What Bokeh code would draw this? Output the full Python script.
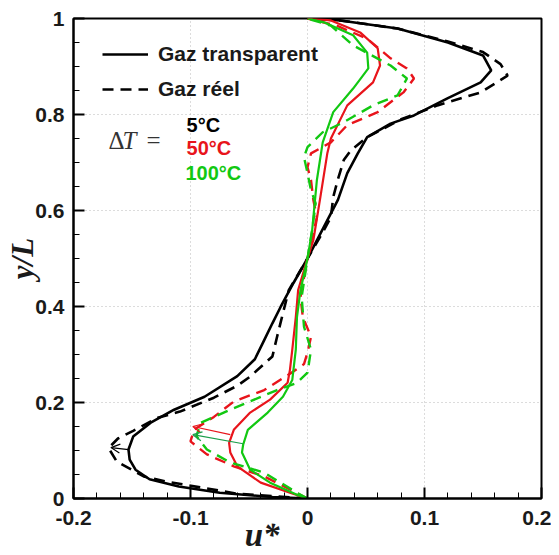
import numpy as np
from bokeh.plotting import figure
from bokeh.models import (Range1d, FixedTicker, Label, Legend, LegendItem, Arrow, OpenHead)
from bokeh.embed import file_html
from bokeh.resources import INLINE

# ---- data (u*, y/L) ----
black_solid_u = [0, -0.03, -0.075, -0.11, -0.135, -0.147, -0.152, -0.153, -0.149, -0.134, -0.114, -0.088,
                 -0.06, -0.045, -0.037, -0.030, -0.023, -0.012, 0, 0.014, 0.026, 0.034, 0.043, 0.051, 0.071,
                 0.091, 0.120, 0.148, 0.157, 0.150, 0.120, 0.077, 0.028, 0]
black_solid_y = [0, 0.003, 0.012, 0.025, 0.04, 0.06, 0.081, 0.102, 0.129, 0.158, 0.185, 0.212,
                 0.255, 0.29, 0.33, 0.365, 0.399, 0.449, 0.5, 0.566, 0.622, 0.678, 0.719, 0.753, 0.781,
                 0.798, 0.834, 0.867, 0.892, 0.923, 0.950, 0.979, 0.996, 1.0]

black_dash_u = [0, -0.06, -0.12, -0.14, -0.163, -0.17, -0.162, -0.149, -0.128, -0.109, -0.08, -0.06, -0.049,
                -0.030, -0.026, -0.021, -0.016, 0, 0.012, 0.020, 0.022, 0.026, 0.031, 0.037, 0.051, 0.08,
                0.111, 0.148, 0.171, 0.165, 0.150, 0.12, 0.077, 0.028, 0]
black_dash_y = [0, 0.01, 0.035, 0.046, 0.077, 0.105, 0.125, 0.141, 0.168, 0.181, 0.21, 0.235, 0.254,
                0.296, 0.337, 0.386, 0.434, 0.5, 0.55, 0.586, 0.628, 0.665, 0.705, 0.725, 0.753, 0.79,
                0.819, 0.846, 0.881, 0.905, 0.93, 0.952, 0.979, 0.996, 1.0]

red_solid_u = [0, -0.015, -0.04, -0.06, -0.066, -0.067, -0.063, -0.049, -0.032, -0.017, -0.015, -0.013,
               -0.010, -0.008, 0, 0.005, 0.011, 0.017, 0.020, 0.034, 0.056, 0.062, 0.060, 0.045, 0.02, 0]
red_solid_y = [0, 0.012, 0.033, 0.067, 0.096, 0.116, 0.143, 0.179, 0.206, 0.241, 0.268, 0.310,
               0.378, 0.434, 0.5, 0.538, 0.628, 0.72, 0.750, 0.819, 0.867, 0.902, 0.938, 0.971, 0.996, 1.0]

red_dash_u = [0, -0.02, -0.037, -0.063, -0.086, -0.1, -0.097, -0.080, -0.063, -0.037, -0.015, -0.003,
              0.0, 0.003, -0.004, -0.006, 0, 0.008, 0.005, 0.003, 0.0, 0.003, 0.020, 0.034, 0.060, 0.082,
              0.091, 0.085, 0.071, 0.051, 0.025, 0]
red_dash_y = [0, 0.025, 0.046, 0.067, 0.092, 0.119, 0.143, 0.170, 0.202, 0.226, 0.26, 0.28,
              0.304, 0.337, 0.378, 0.42, 0.5, 0.586, 0.622, 0.663, 0.69, 0.719, 0.742, 0.778, 0.805, 0.846,
              0.875, 0.896, 0.917, 0.958, 0.985, 1.0]

green_solid_u = [0, -0.009, -0.032, -0.049, -0.056, -0.055, -0.051, -0.034, -0.021, -0.013, -0.010, -0.009,
                 -0.006, 0, 0.004, 0.008, 0.013, 0.022, 0.039, 0.052, 0.051, 0.039, 0.014, 0]
green_solid_y = [0, 0.008, 0.033, 0.060, 0.096, 0.112, 0.143, 0.179, 0.212, 0.247, 0.310, 0.378,
                 0.434, 0.5, 0.559, 0.663, 0.742, 0.805, 0.854, 0.896, 0.929, 0.965, 0.992, 1.0]

green_dash_u = [0, -0.009, -0.037, -0.066, -0.086, -0.095, -0.091, -0.066, -0.026, -0.009, 0, 0.003,
                -0.003, -0.005, 0, 0.004, 0.007, 0.003, 0.0, -0.003, 0.0, 0.013, 0.031, 0.056, 0.077, 0.085,
                0.071, 0.039, 0.020, 0]
green_dash_y = [0, 0.012, 0.054, 0.075, 0.102, 0.13, 0.158, 0.185, 0.226, 0.241, 0.262, 0.31,
                0.358, 0.42, 0.5, 0.56, 0.615, 0.642, 0.678, 0.711, 0.732, 0.763, 0.784, 0.819, 0.840, 0.875,
                0.902, 0.944, 0.985, 1.0]

# arrows: (u_start, y_start, u_end, y_end)
arrow_black = [-0.153, 0.102, -0.168, 0.106]
arrow_red = [-0.066, 0.133, -0.098, 0.150]
arrow_green = [-0.055, 0.114, -0.098, 0.133]

x_ticks = [-0.2, -0.1, 0, 0.1, 0.2]
x_tick_labels = ["-0.2", "-0.1", "0", "0.1", "0.2"]
y_ticks = [0, 0.2, 0.4, 0.6, 0.8, 1.0]
y_tick_labels = ["0", "0.2", "0.4", "0.6", "0.8", "1"]

legend_labels = ["Gaz transparent", "Gaz réel"]
dt_labels = ["5°C", "50°C", "100°C"]

BLACK = "#000000"
RED = "#e8141b"
GREEN = "#12c812"
DASH = "11 7"

p = figure(width=551, height=555, output_backend="svg", toolbar_location=None,
           x_range=Range1d(-0.2, 0.2), y_range=Range1d(0, 1),
           min_border_left=73, min_border_right=10, min_border_top=18, min_border_bottom=56)
p.background_fill_color = "white"
p.border_fill_color = "white"
p.outline_line_color = "black"
p.outline_line_width = 2

# grid
for g in (p.xgrid, p.ygrid):
    g.grid_line_color = "#b8b8b8"
    g.grid_line_dash = "1 3"
    g.grid_line_width = 1
p.xgrid.ticker = FixedTicker(ticks=[-0.1, 0, 0.1])
p.ygrid.ticker = FixedTicker(ticks=[0.2, 0.4, 0.6, 0.8])

# axes
p.xaxis.ticker = FixedTicker(ticks=x_ticks, minor_ticks=list(np.round(np.arange(-0.2, 0.2001, 0.02), 3)))
p.yaxis.ticker = FixedTicker(ticks=y_ticks, minor_ticks=list(np.round(np.arange(0, 1.0001, 0.05), 3)))
p.xaxis.major_label_overrides = {t: l for t, l in zip(x_ticks, x_tick_labels)}
p.yaxis.major_label_overrides = {t: l for t, l in zip(y_ticks, y_tick_labels)}
for ax in (p.xaxis[0], p.yaxis[0]):
    ax.axis_line_width = 2
    ax.axis_line_color = "black"
    ax.major_tick_in = 11
    ax.major_tick_out = 0
    ax.minor_tick_in = 6
    ax.minor_tick_out = 0
    ax.major_tick_line_width = 2
    ax.minor_tick_line_width = 1
    ax.major_label_text_font = "Liberation Sans"
    ax.major_label_text_font_style = "bold"
    ax.major_label_text_font_size = "21px"
    ax.major_label_text_color = "#1a1a1a"
    ax.axis_label_text_font = "Liberation Serif"
    ax.axis_label_text_font_style = "bold italic"
    ax.axis_label_text_color = "#1a1a1a"
p.xaxis.major_label_standoff = 12
p.yaxis.major_label_standoff = 9
p.yaxis.major_label_orientation = "horizontal"

p.yaxis.axis_label = "y/L"
p.yaxis.axis_label_text_font_size = "31px"
p.yaxis.axis_label_standoff = -8
p.xaxis.axis_label = "u*" + "\u00a0" * 11
p.xaxis.axis_label_text_font_size = "33px"
p.xaxis.axis_label_standoff = -11

# curves
r_bs = p.line(black_solid_u, black_solid_y, line_color=BLACK, line_width=2.6)
r_bd = p.line(black_dash_u, black_dash_y, line_color=BLACK, line_width=2.6, line_dash=DASH)
p.line(red_solid_u, red_solid_y, line_color=RED, line_width=2.2)
p.line(red_dash_u, red_dash_y, line_color=RED, line_width=2.4, line_dash=DASH)
p.line(green_solid_u, green_solid_y, line_color=GREEN, line_width=2.2)
p.line(green_dash_u, green_dash_y, line_color=GREEN, line_width=2.4, line_dash=DASH)

# arrows
for a, c in ((arrow_black, BLACK), (arrow_red, RED), (arrow_green, "#1a9e4a")):
    p.add_layout(Arrow(x_start=a[0], y_start=a[1], x_end=a[2], y_end=a[3],
                       line_color=c, line_width=1.2,
                       end=OpenHead(size=9, line_color=c, line_width=1.2)))

# legend (location = bottom-left corner, px from frame bottom-left)
legend = Legend(items=[LegendItem(label=legend_labels[0], renderers=[r_bs]),
                       LegendItem(label=legend_labels[1], renderers=[r_bd])],
                location=(29, 397))
legend.border_line_color = None
legend.background_fill_alpha = 0
legend.label_text_font = "Liberation Sans"
legend.label_text_font_style = "bold"
legend.label_text_font_size = "21px"
legend.label_text_color = "#1a1a1a"
legend.glyph_width = 46
legend.glyph_height = 24
legend.label_height = 24
legend.spacing = 11
legend.padding = 0
legend.margin = 0
legend.label_standoff = 10
p.add_layout(legend)

# Delta T annotation
p.add_layout(Label(x=-0.1701, y=0.7464, text="Δ", text_font="Liberation Serif",
                   text_font_size="25px", text_baseline="middle", text_color="#333333"))
p.add_layout(Label(x=-0.1581, y=0.7464, text="T", text_font="Liberation Serif", text_font_style="italic",
                   text_font_size="25px", text_baseline="middle", text_color="#333333"))
p.add_layout(Label(x=-0.1376, y=0.7464, text="=", text_font="Liberation Serif",
                   text_font_size="25px", text_baseline="middle", text_color="#333333"))
for lab, c, yy, xx in zip(dt_labels, [BLACK, RED, GREEN], [0.7775, 0.7297, 0.6778],
                          [-0.1034, -0.1034, -0.1043]):
    p.add_layout(Label(x=xx, y=yy, text=lab, text_font="Liberation Sans", text_font_style="bold",
                       text_font_size="20px", text_baseline="middle", text_color=c))

open("out.html", "w").write(file_html(p, INLINE))
